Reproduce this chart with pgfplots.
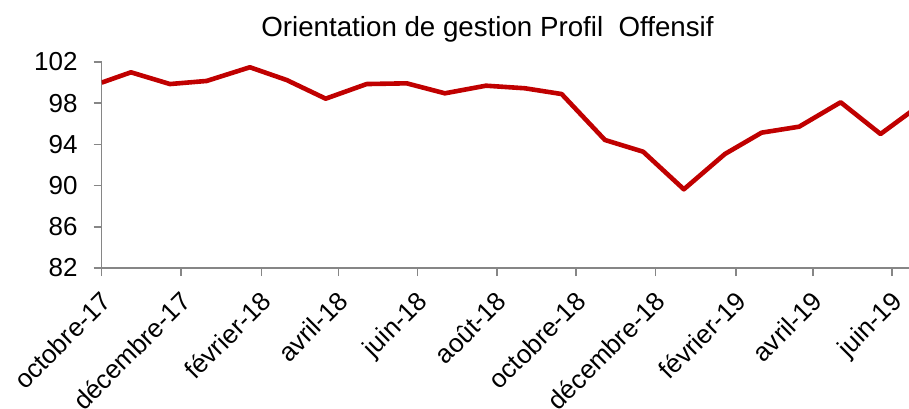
\documentclass[border=0pt]{standalone}
\usepackage{fontspec}
\setmainfont{Liberation Sans}
\usepackage{pgfplots}
\pgfplotsset{compat=1.18}
\definecolor{lineRed}{RGB}{192,0,0}
\definecolor{axGray}{RGB}{134,134,134}
\begin{document}
\begin{tikzpicture}
\path[use as bounding box] (0,0) rectangle (909pt,408pt);
\clip (0,0) rectangle (909pt,408pt);
\node[anchor=base, font=\fontsize{27.7}{32}\selectfont] at (487.5pt,371.3pt) {Orientation de gestion Profil\ \ Offensif};
\begin{axis}[
  at={(101.7pt,140pt)}, anchor=south west,
  scale only axis, width=807.3pt, height=206pt,
  xmin=0, xmax=621, ymin=82, ymax=102,
  ytick={82,86,90,94,98,102},
  xtick={0,61,123,182,243,304,365,426,488,547,608},
  xticklabels={octobre-17,décembre-17,février-18,avril-18,juin-18,août-18,octobre-18,décembre-18,février-19,avril-19,juin-19},
  axis lines*=left,
  axis line style={axGray, line width=1.5pt},
  tick style={axGray, line width=1.5pt},
  tick align=outside, major tick length=8pt,
  /pgf/number format/assume math mode=true,
  tick label style={font=\fontsize{26}{30}\selectfont, black},
  yticklabel style={inner sep=0pt, xshift=-16pt},
  xticklabel style={rotate=45, anchor=north east, inner sep=0pt, xshift=-11pt, yshift=-8pt, font=\fontsize{26}{30}\selectfont},
  clip=true,
]
\addplot[lineRed, line width=4.6pt, line join=round] coordinates {
(0,100.0) (22.5,101.0) (52.5,99.86) (80.7,100.16) (114.0,101.49) (142.3,100.25)
(172.3,98.44) (203.8,99.86) (234.6,99.93) (264.0,98.96) (295.6,99.70) (325.5,99.45)
(353.8,98.89) (387.1,94.43) (416.5,93.29) (447.8,89.64) (479.4,93.07) (507.6,95.14)
(536.5,95.72) (568.4,98.09) (599.1,95.01) (627,97.6)
};
\end{axis}
\end{tikzpicture}
\end{document}
